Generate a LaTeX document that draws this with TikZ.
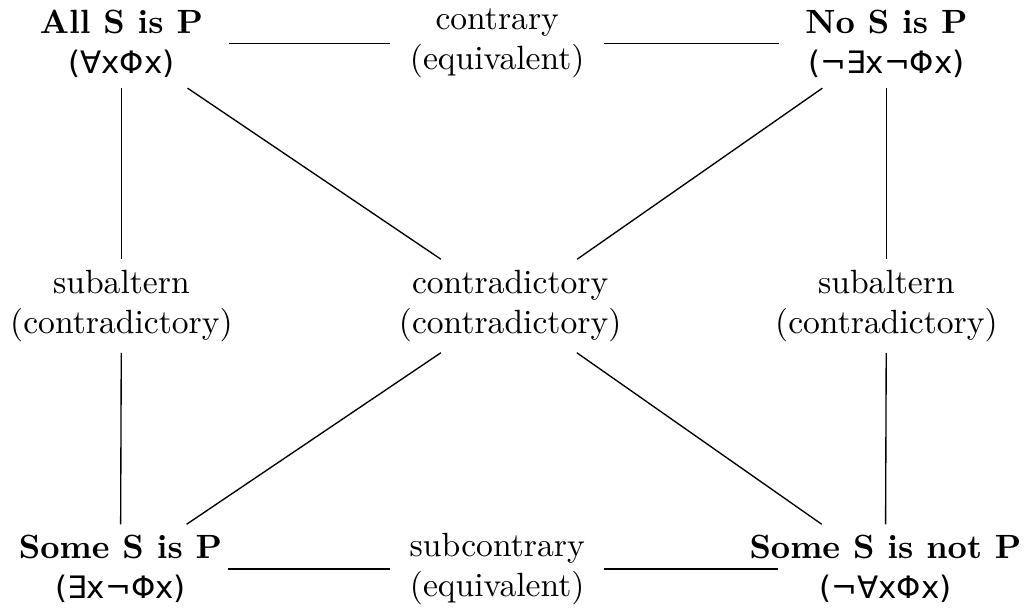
\documentclass[tikz,border=0pt]{standalone}
\usepackage{amsmath}
\usepackage{amssymb}
\usepackage{fontspec}
\newfontfamily\logicfont{DejaVu Sans}[Scale=0.92]
\usepackage{tikz}

\begin{document}
\begin{tikzpicture}[main node/.style={align=center, inner sep=3pt},
	side line/.style={shorten <=1.12cm, shorten >=1.12cm}]
	\useasboundingbox (0,0) rectangle (10.73,-6.35);

	\node[main node] (1) at (1.27,-0.455) {\textbf{All S is P}\\{\logicfont (∀xΦx)}};
	\node[main node] (2) at (5.20,-0.455) {contrary\\(equivalent)};
	\node[main node] (3) at (9.27,-0.455) {\textbf{No S is P}\\{\logicfont (¬∃x¬Φx)}};

	\node[main node] (4) at (1.27,-3.20) {subaltern\\(contradictory)};
	\node[main node] (5) at (5.335,-3.20) {contradictory\\(contradictory)};
	\node[main node] (6) at (9.27,-3.20) {subaltern\\(contradictory)};

	\node[main node] (7) at (1.26,-5.95) {\textbf{Some S is P}\\{\logicfont (∃x¬Φx)}};
	\node[main node] (8) at (5.20,-5.95) {subcontrary\\(equivalent)};
	\node[main node] (9) at (9.26,-5.95) {\textbf{Some S is not P}\\{\logicfont (¬∀xΦx)}};

	\draw[side line] (1.center) -- (2.center);
	\draw[side line] (2.center) -- (3.center);
	\draw[side line] (7.center) -- (8.center);
	\draw[side line] (8.center) -- (9.center);

	\draw (1) -- (4);
	\draw (4) -- (7);
	\draw (3) -- (6);
	\draw (6) -- (9);

	\draw (1) -- (5);
	\draw (3) -- (5);
	\draw (5) -- (7);
	\draw (5) -- (9);
\end{tikzpicture}
\end{document}
